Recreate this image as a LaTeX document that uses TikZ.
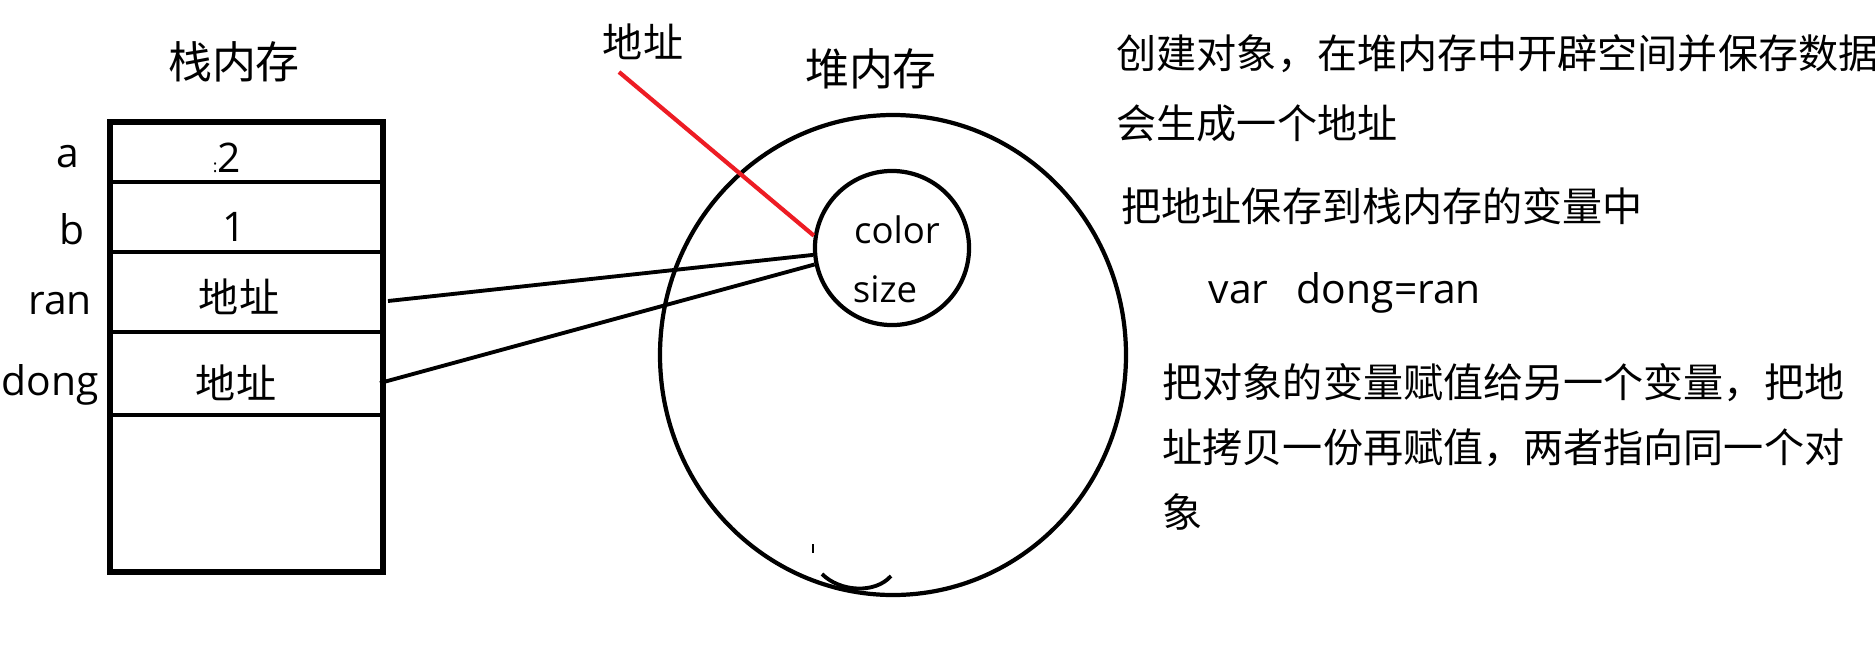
\documentclass[tikz,border=0pt]{standalone}
\usepackage{fontspec}
\setmainfont{Open Sans}
\newfontfamily\cjk{Noto Sans CJK SC}
\usetikzlibrary{positioning}
\definecolor{ink}{HTML}{000000}
\definecolor{pointer}{HTML}{ED1C24}

\begin{document}
\begin{tikzpicture}[x=0.01cm,y=-0.01cm,
  hanzi/.style={inner sep=0pt,font=\cjk\fontsize{11.4}{13}\selectfont},
  title/.style={inner sep=0pt,font=\cjk\fontsize{12.5}{14}\selectfont},
  latin/.style={inner sep=0pt,font=\fontsize{11.6}{13}\selectfont},
  note/.style={hanzi,anchor=west},
  wire/.style={ink,line width=1.1pt}]
  \useasboundingbox (0,0) rectangle (1875,654);
  \node[title] (stacklbl) at (234,62) {栈内存};
  \node[title] (heaplbl) at (871,69) {堆内存};
  \draw[ink,line width=1.5pt] (110,122) rectangle (383,572);
  \foreach \y in {182,252,332,415} {
    \draw[ink,line width=1.2pt] (110,\y) -- (383,\y);
  }
  \foreach \n/\x/\y in {a/68/157,b/72/229,ran/60/304,dong/50/385} {
    \node[latin] (lbl\n) at (\x,\y) {\n};
  }
  \node[latin] (vala) at (227,158) {{\fontsize{5}{5}\selectfont :}2};
  \node[latin] (valb) at (234,227) {1};
  \node[hanzi] (valran) at (239,297) {地址};
  \node[hanzi] (valdong) at (236,383) {地址};
  \draw[ink,line width=1.2pt] (893,355) ellipse [x radius=233, y radius=240];
  \node[draw=ink,line width=1.2pt,circle,minimum size=1.54cm,inner sep=0pt] (obj) at (892,248) {};
  \node[latin,font=\fontsize{10.4}{12}\selectfont] (color) at (897,230) {color};
  \node[latin,font=\fontsize{10.4}{12}\selectfont] (size) at (885,289) {size};
  \coordinate (ranptr) at (388,301);
  \coordinate (dongptr) at (380,383);
  \draw[wire] (ranptr) -- (obj.185);
  \draw[wire] (dongptr) -- (obj.192);
  \node[hanzi] (addrlbl) at (643,42) {地址};
  \coordinate (addrtip) at (619,72);
  \draw[pointer,line width=1.2pt] (addrtip) -- (obj.171);
  \draw[ink,line width=0.4pt] (813,544) -- (813,553);
  \draw[ink,line width=1.1pt] (822,574) .. controls (840,592) and (875,594) .. (891,576);
  \foreach \t/\x/\y [count=\i] in {创建对象，在堆内存中开辟空间并保存数据/1116/54,
    会生成一个地址/1116/123,把地址保存到栈内存的变量中/1121/206,
    把对象的变量赋值给另一个变量，把地/1162/383,址拷贝一份再赋值，两者指向同一个对/1162/448,
    象/1162/512} {
    \node[note] (note\i) at (\x,\y) {\t};
  }
  \node[latin,anchor=west] (code) at (1208,293) {var\hspace{0.7em}dong=ran};
\end{tikzpicture}
\end{document}
